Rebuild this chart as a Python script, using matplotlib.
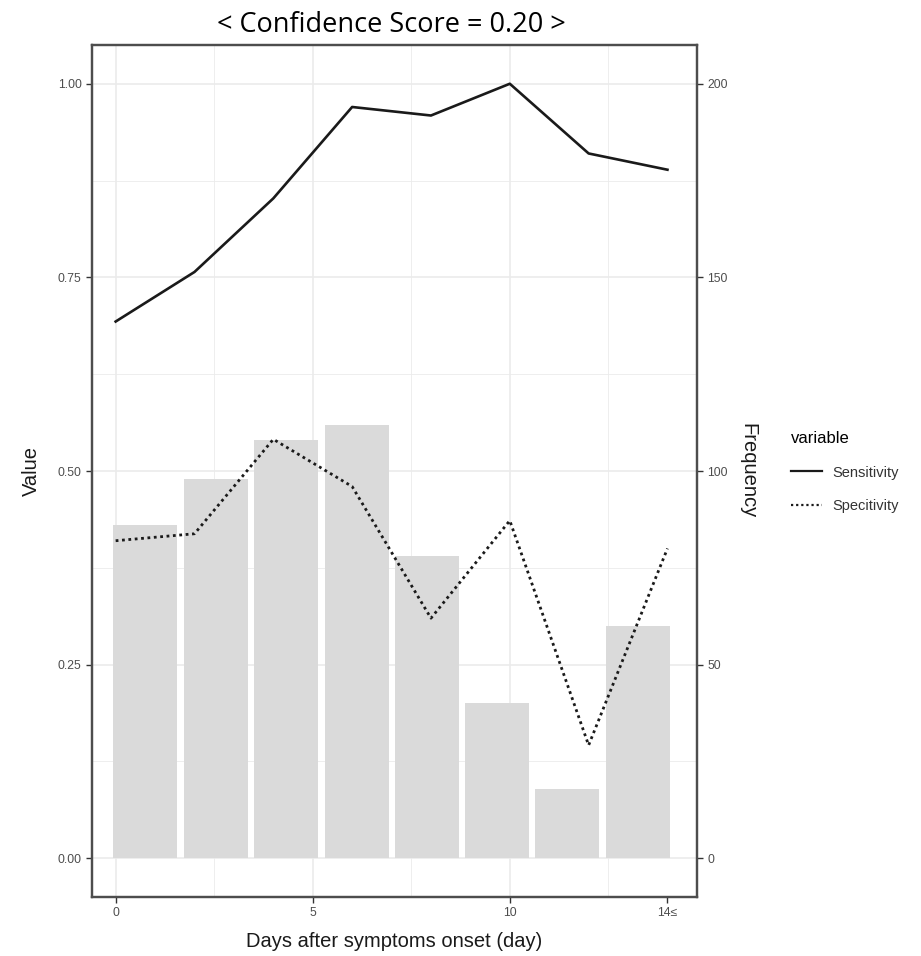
import matplotlib
matplotlib.use("Agg")
import matplotlib.pyplot as plt
from matplotlib.lines import Line2D

plt.rcParams['font.family'] = ['Liberation Sans', 'DejaVu Sans']

# ---- data ----
days = [0, 2, 4, 6, 8, 10, 12, 14]
sensitivity = [0.693, 0.757, 0.852, 0.970, 0.959, 1.000, 0.910, 0.889]
specificity = [0.410, 0.419, 0.541, 0.480, 0.310, 0.436, 0.146, 0.400]
bar_x = [0.75, 2.54, 4.32, 6.12, 7.9, 9.67, 11.46, 13.26]
frequency = [86, 98, 108, 112, 78, 40, 18, 60]
x_ticks = [0, 5, 10, 14]
x_ticklabels = ["0", "5", "10", "14\u2264"]
y_ticks = [0.0, 0.25, 0.5, 0.75, 1.0]
y_ticklabels = ["0.00", "0.25", "0.50", "0.75", "1.00"]
y2_ticks = [0, 50, 100, 150, 200]
title = "< Confidence Score = 0.20 >"

fig = plt.figure(figsize=(9.21, 9.56), dpi=100)
ax = fig.add_axes([0.0999, 0.0617, 0.6569, 0.8912])

grid_c = "#ebebeb"
ax.set_axisbelow(True)
ax.set_xlim(-0.6, 14.75)
ax.set_ylim(-0.05, 1.05)

ax2 = ax.twinx()
ax2.set_ylim(-10, 210)
ax2.set_zorder(0)
ax.set_zorder(1)
ax.patch.set_visible(False)

# grid on ax2 (bottom layer)
for v in [0, 5, 10]:
    ax2.axvline(v, color=grid_c, lw=1.2, zorder=0)
for v in [2.5, 7.5, 12.5]:
    ax2.axvline(v, color=grid_c, lw=0.6, zorder=0)
for v in y_ticks:
    ax2.axhline(v * 200, color=grid_c, lw=1.2, zorder=0)
for v in [0.125, 0.375, 0.625, 0.875]:
    ax2.axhline(v * 200, color=grid_c, lw=0.6, zorder=0)

ax2.bar(bar_x, frequency, width=1.62, color="#dadada", zorder=1)
ax2.set_yticks(y2_ticks)
ax2.set_yticklabels([str(v) for v in y2_ticks])

ax.plot(days, sensitivity, color="#1a1a1a", lw=1.9, ls="-", solid_joinstyle="round")
ax.plot(days, specificity, color="#1a1a1a", lw=2.0, ls=(0, (1, 1.3)))

ax.set_xticks(x_ticks)
ax.set_xticklabels(x_ticklabels)
ax.set_yticks(y_ticks)
ax.set_yticklabels(y_ticklabels)

for a in (ax, ax2):
    a.tick_params(axis="both", colors="#333333", labelcolor="#4d4d4d",
                  labelsize=8.8, length=4, width=1)
    for s in a.spines.values():
        s.set_color("#4d4d4d")
        s.set_linewidth(1.6)

ax.set_xlabel("Days after symptoms onset (day)", fontsize=14.5, color="#1a1a1a", labelpad=9)
ax.set_ylabel("Value", fontsize=14.5, color="#1a1a1a", labelpad=12)
ax2.set_ylabel("Frequency", fontsize=14.5, color="#1a1a1a", rotation=-90, labelpad=21)

fig.text(0.425, 0.974, title, ha="center", va="center", fontsize=19.5,
         family="Open Sans", color="black")

handles = [Line2D([0], [0], color="#1a1a1a", lw=1.6, ls="-"),
           Line2D([0], [0], color="#1a1a1a", lw=1.6, ls=(0, (1, 1.3)))]
leg = fig.legend(handles, ["Sensitivity", "Specitivity"], title="variable",
                 loc="upper left", bbox_to_anchor=(0.845, 0.563), frameon=False,
                 fontsize=10.5, title_fontsize=12, handlelength=2.1,
                 labelspacing=1.35, handletextpad=0.7)
leg._legend_box.align = "left"
for t in leg.get_texts():
    t.set_color("#333333")

fig.savefig("out.png", dpi=100)
